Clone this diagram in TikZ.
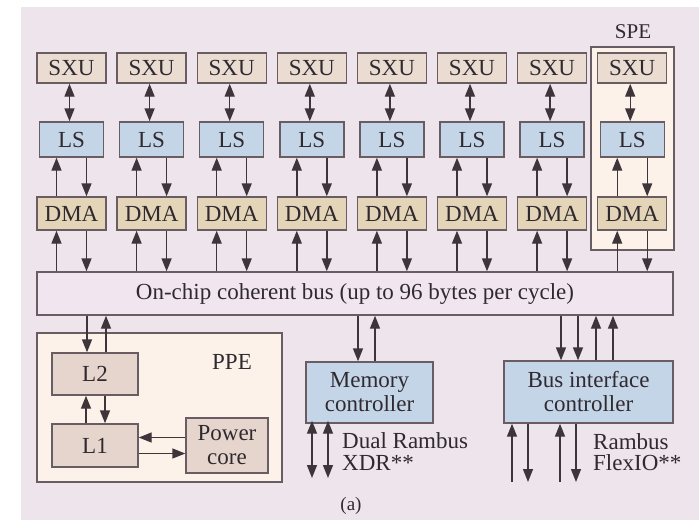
\documentclass[tikz,border=0pt]{standalone}
\usepackage{fontspec}
\newfontfamily\dfont{Liberation Serif}
\usetikzlibrary{arrows.meta,calc}
\definecolor{bg}{HTML}{EEE4EC}
\definecolor{sxuc}{HTML}{EBDCD2}
\definecolor{lsc}{HTML}{C5D5E8}
\definecolor{dmac}{HTML}{E4D4B8}
\definecolor{cachec}{HTML}{E6D5CD}
\definecolor{groupc}{HTML}{FCF2EA}
\definecolor{busc}{HTML}{F1E6EF}
\definecolor{linec}{HTML}{6A5C63}
\definecolor{arrc}{HTML}{3E353B}
\definecolor{txt}{HTML}{2F2A2F}
\begin{document}
\begin{tikzpicture}[x=1pt,y=-1pt,
  font=\dfont\fontsize{23}{24}\selectfont,
  box/.style={draw=linec, line width=1.4pt, text=txt, inner sep=0pt, align=center},
  sxubox/.style={box, fill=sxuc, minimum width=69pt, minimum height=30pt},
  lsbox/.style={box, fill=lsc, minimum width=64pt, minimum height=35pt},
  dmabox/.style={box, fill=dmac, minimum width=69pt, minimum height=33pt},
  cachebox/.style={box, fill=cachec},
  groupbox/.style={draw=linec, line width=1.7pt, fill=groupc, inner sep=0pt},
  ctrlbox/.style={box, fill=lsc},
  lbl/.style={text=txt, inner sep=0pt},
  tip/.tip={Triangle[length=13pt,width=10pt]},
  arr/.style={draw=arrc, line width=1.4pt, -tip},
  darr/.style={draw=arrc, line width=1.4pt, tip-tip},
]
\useasboundingbox (0,0) rectangle (699,522);
\fill[white] (0,0) rectangle (699,522);
\fill[bg] (21,7) rectangle (699,520);

% SPE group
\node[groupbox, minimum width=83pt, minimum height=203pt] (spe) at (632.5,148.5) {};
\node[lbl, font=\dfont\fontsize{21}{22}\selectfont] (spelbl) at (633,32) {SPE};

% bus
\node[box, fill=busc, minimum width=636pt, minimum height=43pt] (bus) at (355,293.5)
  {On-chip coherent bus (up to 96 bytes per cycle)};

% SPE columns
\foreach \i [evaluate=\i as \cx using {71.5+80.1*(\i-1)}] in {1,...,8} {
  \node[sxubox] (sxu\i) at (\cx,68) {SXU};
  \node[lsbox]  (ls\i)  at (\cx,139.5) {LS};
  \node[dmabox] (dma\i) at (\cx,213.5) {DMA};
  \coordinate (a\i) at ([xshift=-2pt]sxu\i.south);
  \coordinate (u\i) at ([xshift=-15pt]dma\i.north);
  \coordinate (d\i) at ([xshift=15pt]dma\i.north);
  \coordinate (bu\i) at ([xshift=-15pt]dma\i.south);
  \coordinate (bd\i) at ([xshift=15pt]dma\i.south);
  \draw[darr] (a\i) -- (a\i |- ls\i.north);
  \draw[arr] (u\i) -- (u\i |- ls\i.south);
  \draw[arr] (d\i |- ls\i.south) -- (d\i);
  \draw[arr] (bu\i |- bus.north) -- (bu\i);
  \draw[arr] (bd\i) -- (bd\i |- bus.north);
}

% PPE group
\node[groupbox, minimum width=245pt, minimum height=149pt] (ppe) at (159.5,407.5) {};
\node[lbl] (ppelbl) at (232,362) {PPE};
\node[cachebox, minimum width=86pt, minimum height=42pt] (l2) at (95,374) {L2};
\node[cachebox, minimum width=86pt, minimum height=43pt] (l1) at (95,445.5) {L1};
\node[cachebox, minimum width=82pt, minimum height=55pt] (pc) at (227,445.5) {Power\\core};

\coordinate (pd) at ([xshift=-8pt]l2.north);
\coordinate (pu) at ([xshift=11pt]l2.north);
\draw[arr] (pd |- bus.south) -- (pd);
\draw[arr] (pu) -- (pu |- bus.south);
\coordinate (cu) at ([xshift=-9pt]l1.north);
\coordinate (cd) at ([xshift=10pt]l1.north);
\draw[arr] (cu) -- (cu |- l2.south);
\draw[arr] (cd |- l2.south) -- (cd);
\coordinate (hr) at ([yshift=-8pt]l1.east);
\coordinate (hl) at ([yshift=8pt]l1.east);
\draw[arr] (hr) -- (hr -| pc.west);
\draw[arr] (hl -| pc.west) -- (hl);

% Memory controller
\node[ctrlbox, minimum width=127pt, minimum height=61pt] (mem) at (369.5,392.5) {Memory\\controller};
\coordinate (md) at ([xshift=-11.5pt]mem.north);
\coordinate (mu) at ([xshift=5.5pt]mem.north);
\draw[arr] (md |- bus.south) -- (md);
\draw[arr] (mu) -- (mu |- bus.south);
\coordinate (mx1) at (312,478);
\coordinate (mx2) at (328,478);
\draw[darr] ([yshift=3pt]mx1 |- mem.south) -- (mx1);
\draw[darr] ([yshift=3pt]mx2 |- mem.south) -- (mx2);
\node[lbl, anchor=west] (dual) at (342,441) {Dual Rambus};
\node[lbl, anchor=west] (xdr) at (342,463) {XDR**};

% Bus interface controller
\node[ctrlbox, minimum width=169pt, minimum height=62pt] (bic) at (588.5,392) {Bus interface\\controller};
\coordinate (b1) at (561,0);
\coordinate (b2) at (578,0);
\coordinate (b3) at (596,0);
\coordinate (b4) at (613,0);
\draw[arr] (b1 |- bus.south) -- (b1 |- bic.north);
\draw[arr] (b2 |- bus.south) -- (b2 |- bic.north);
\draw[arr] (b3 |- bic.north) -- (b3 |- bus.south);
\draw[arr] (b4 |- bic.north) -- (b4 |- bus.south);
\coordinate (f1) at (512,482);
\coordinate (f2) at (528,482);
\coordinate (f3) at (560,482);
\coordinate (f4) at (576,482);
\draw[arr] (f1) -- (f1 |- bic.south);
\draw[arr] (f2 |- bic.south) -- (f2);
\draw[arr] (f3) -- (f3 |- bic.south);
\draw[arr] (f4 |- bic.south) -- (f4);
\node[lbl, anchor=west] (rambus) at (593,442) {Rambus};
\node[lbl, anchor=west] (flexio) at (593,463) {FlexIO**};

\node[lbl, font=\dfont\fontsize{19}{20}\selectfont] (cap) at (351,506) {(a)};
\end{tikzpicture}
\end{document}
